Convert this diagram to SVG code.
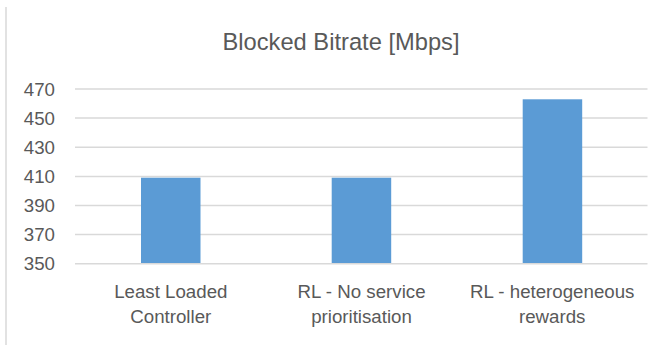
<svg xmlns="http://www.w3.org/2000/svg" width="668" height="345" viewBox="0 0 668 345">
  <style>
    text { font-family: "Liberation Sans", Arial, sans-serif; fill: #595959; }
    .title { font-size: 23.7px; text-anchor: middle; }
    .tick { font-size: 18.7px; text-anchor: end; }
    .cat { font-size: 18.7px; text-anchor: middle; }
    .grid { stroke: #d9d9d9; stroke-width: 1.5; fill: none; }
    .bar { fill: #5b9bd5; }
  </style>
  <rect x="0" y="0" width="668" height="345" fill="#ffffff"/>
  <line x1="6" y1="7" x2="6" y2="345" stroke="#d9d9d9" stroke-width="1.5"/>
  <g id="title">
    <text class="title" x="341" y="49.5">Blocked Bitrate [Mbps]</text>
  </g>
  <g id="gridlines">
    <line class="grid" x1="75" y1="89" x2="647.5" y2="89"/>
    <line class="grid" x1="75" y1="118.1" x2="647.5" y2="118.1"/>
    <line class="grid" x1="75" y1="147.2" x2="647.5" y2="147.2"/>
    <line class="grid" x1="75" y1="176.4" x2="647.5" y2="176.4"/>
    <line class="grid" x1="75" y1="205.5" x2="647.5" y2="205.5"/>
    <line class="grid" x1="75" y1="234.6" x2="647.5" y2="234.6"/>
  </g>
  <g id="y-axis-labels">
    <text class="tick" x="55" y="95.5">470</text>
    <text class="tick" x="55" y="124.6">450</text>
    <text class="tick" x="55" y="153.7">430</text>
    <text class="tick" x="55" y="182.9">410</text>
    <text class="tick" x="55" y="212">390</text>
    <text class="tick" x="55" y="241.1">370</text>
    <text class="tick" x="55" y="270.2">350</text>
  </g>
  <g id="bar-least-loaded">
    <rect class="bar" x="141" y="177.7" width="59.5" height="86"/>
  </g>
  <g id="bar-rl-no-priority">
    <rect class="bar" x="331.7" y="177.7" width="59.5" height="86"/>
  </g>
  <g id="bar-rl-heterogeneous">
    <rect class="bar" x="522.7" y="99.3" width="59.5" height="164.4"/>
  </g>
  <g id="x-axis">
    <line class="grid" x1="75" y1="263.7" x2="647.5" y2="263.7"/>
  </g>
  <g id="category-labels">
    <text class="cat" x="170.8" y="298.3">Least Loaded</text>
    <text class="cat" x="170.8" y="322.8">Controller</text>
    <text class="cat" x="361.5" y="298.3">RL - No service</text>
    <text class="cat" x="361.5" y="322.8">prioritisation</text>
    <text class="cat" x="552.2" y="298.3">RL - heterogeneous</text>
    <text class="cat" x="552.2" y="322.8">rewards</text>
  </g>
</svg>
